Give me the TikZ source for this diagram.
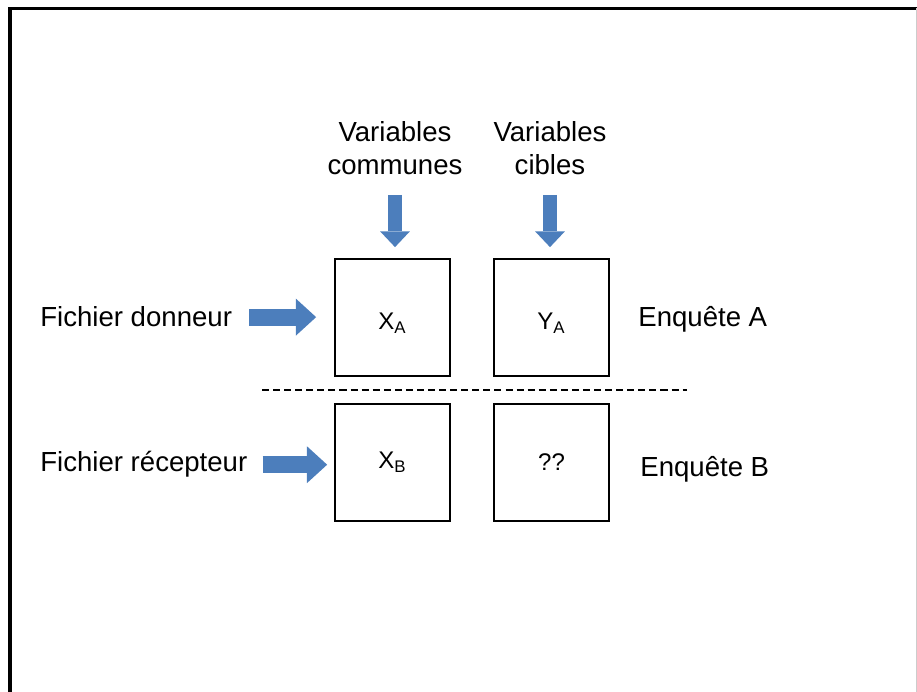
\documentclass[tikz,border=0pt]{standalone}
\usepackage{fontspec}
\setmainfont{Liberation Sans}
\usetikzlibrary{arrows.meta}
\definecolor{flecheBleu}{RGB}{76,126,188}

\begin{document}
\begin{tikzpicture}[x=0.02cm, y=-0.02cm, line join=miter,
		font=\fontsize{15.7}{18.8}\selectfont,
		boite/.style={draw, line width=1pt, minimum width=2.3cm, minimum height=2.34cm, inner sep=0pt, font=\fontsize{13.7}{16}\selectfont},
		boiteHaut/.style={boite, text height=16pt},
		etiquette/.style={inner sep=0pt},
		flecheH/.style={flecheBleu, line width=9.7pt, -{Triangle[width=21pt, length=11.5pt, line width=0pt]}},
		flecheV/.style={flecheBleu, line width=8.5pt, -{Triangle[width=17pt, length=9pt, line width=0pt]}}]
	\useasboundingbox (0,0) rectangle (917,692);
	% cadre
	\draw[line width=2pt] (10,692) -- (10,8.5) -- (917,8.5);
	\draw[gray!40, line width=0.5pt] (916,8.5) -- (916,692);
	% les quatre blocs
	\node[boiteHaut] (XA) at (392.5,317.5) {X\textsubscript{A}};
	\node[boiteHaut] (YA) at (551.5,317.5) {Y\textsubscript{A}};
	\node[boite] (XB) at (392.5,462.5) {X\textsubscript{B}};
	\node[boite] (YB) at (551.5,462.5) {??};
	\coordinate (sepG) at (262,390);
	\coordinate (sepD) at (687,390);
	\draw[dashed, line width=0.8pt, dash pattern=on 4pt off 2.3pt] (sepG) -- (sepD);
	% textes
	\node[etiquette, anchor=south, align=center] (communes) at (395,175) {Variables\\communes};
	\node[etiquette, anchor=south, align=center] (cibles) at (550,175) {Variables\\cibles};
	\node[etiquette, anchor=base west] (donneur) at (40,327) {Fichier donneur};
	\node[etiquette, anchor=base west] (recepteur) at (40,472) {Fichier récepteur};
	\node[etiquette, anchor=base west] (enqA) at (638,327) {Enquête A};
	\node[etiquette, anchor=base west] (enqB) at (640,477) {Enquête B};
	% fleches
	\draw[flecheV, shorten <=0.4cm, shorten >=0.22cm] (communes.south) -- (communes.south |- XA.north);
	\draw[flecheV, shorten <=0.4cm, shorten >=0.22cm] (cibles.south) -- (cibles.south |- YA.north);
	\draw[flecheH, shorten <=0.34cm, shorten >=0.36cm] (donneur.east) -- (donneur.east -| XA.west);
	\draw[flecheH, shorten <=0.3cm, shorten >=0.14cm] (recepteur.east) -- (recepteur.east -| XB.west);
\end{tikzpicture}
\end{document}
